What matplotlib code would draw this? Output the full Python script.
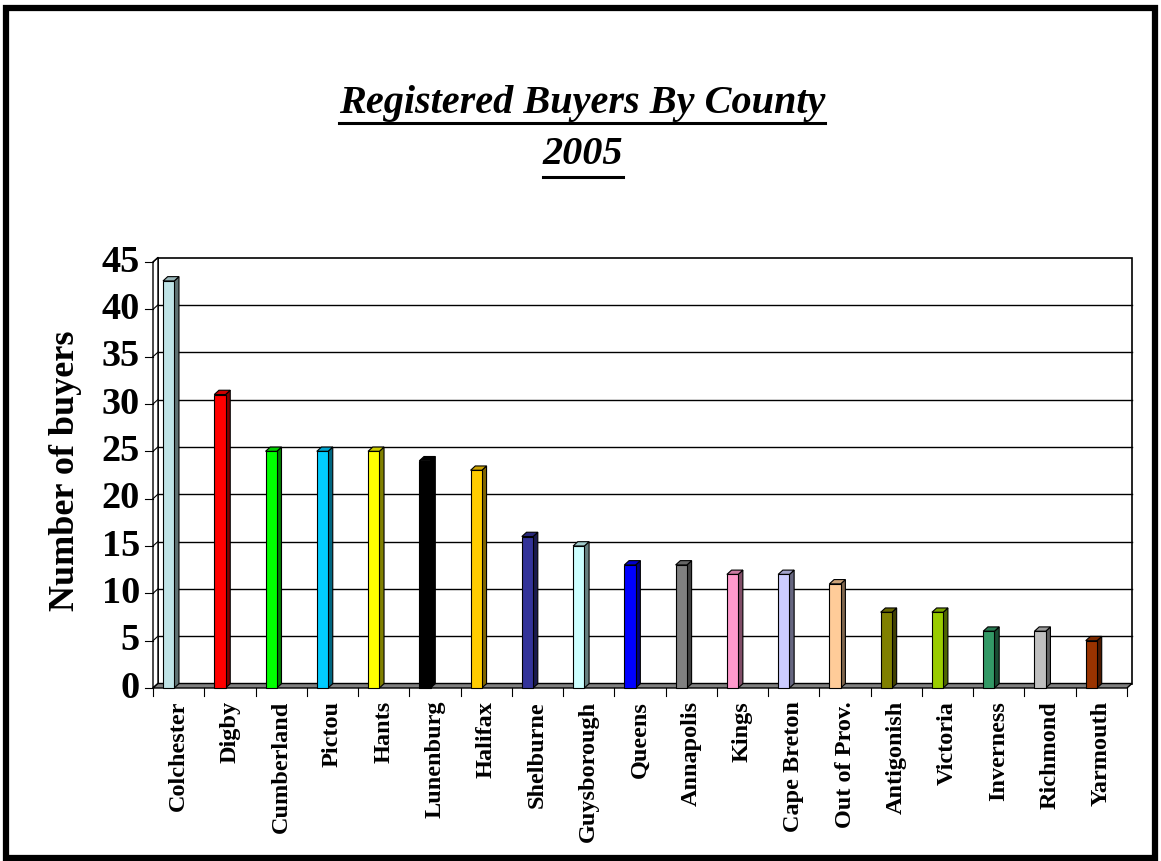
import matplotlib
matplotlib.use("Agg")
import matplotlib.pyplot as plt
from matplotlib.patches import Polygon, Rectangle
from matplotlib.lines import Line2D
import numpy as np

counties = ["Colchester", "Digby", "Cumberland", "Pictou", "Hants", "Lunenburg",
            "Halifax", "Shelburne", "Guysborough", "Queens", "Annapolis", "Kings",
            "Cape Breton", "Out of Prov.", "Antigonish", "Victoria", "Inverness",
            "Richmond", "Yarmouth"]
buyers = [43, 31, 25, 25, 25, 24, 23, 16, 15, 13, 13, 12, 12, 11, 8, 8, 6, 6, 5]
colors = ["#BFE3E6", "#FF0000", "#00FF00", "#00CCFF", "#FFFF00", "#000000",
          "#FFCC00", "#333399", "#CCFFFF", "#0000FF", "#808080", "#FF99CC",
          "#CCCCFF", "#FFCC99", "#808000", "#99CC00", "#339966", "#C0C0C0",
          "#993300"]
yticks = [0, 5, 10, 15, 20, 25, 30, 35, 40, 45]

FONT = "Liberation Serif"
W, H = 1161, 861
fig = plt.figure(figsize=(W / 100, H / 100), dpi=100)

# axes placed in pixel terms
left_px, right_px, bot_px, top_px = 153, 1127, 688, 262
ax = fig.add_axes([left_px / W, 1 - bot_px / H, (right_px - left_px) / W, (bot_px - top_px) / H])
n = len(counties)
ax.set_xlim(0, n)
ax.set_ylim(0, 45)
ax.axis("off")

unit_x = (right_px - left_px) / n
unit_y = (bot_px - top_px) / 45.0
dx = 5 / unit_x
dy = 4.5 / unit_y

# back wall
ax.add_patch(Rectangle((dx, dy), n, 45, facecolor="white", edgecolor="black", lw=1.2, clip_on=False, zorder=1))
for t in yticks[1:-1]:
    ax.plot([dx, n + dx], [t + dy, t + dy], color="black", lw=1.0, clip_on=False, zorder=1.5)
# left side wall
ax.add_patch(Polygon([(0, 0), (dx, dy), (dx, 45 + dy), (0, 45)], closed=True,
                     facecolor="white", edgecolor="black", lw=1.0, clip_on=False, zorder=1.6))
for t in yticks:
    ax.plot([0, dx], [t, t + dy], color="black", lw=0.8, clip_on=False, zorder=1.7)
    ax.plot([-8 / unit_x, 0], [t, t], color="black", lw=0.8, clip_on=False, zorder=1.7)
# floor
ax.add_patch(Polygon([(0, 0), (n, 0), (n + dx, dy), (dx, dy)], closed=True,
                     facecolor="#808080", edgecolor="black", lw=1.0, clip_on=False, zorder=1.8))
# category ticks
for i in range(n + 1):
    ax.plot([i, i], [0, -8 / unit_y], color="black", lw=0.8, clip_on=False, zorder=1.8)


def shade(c, f):
    rgb = np.array(matplotlib.colors.to_rgb(c))
    return tuple(rgb * f)


bw = 0.22
bdx = 4.7 / unit_x
bdy = 4.3 / unit_y
for i, (v, c) in enumerate(zip(buyers, colors)):
    x0 = i + 0.305 - bw / 2
    x1 = x0 + bw
    ax.add_patch(Polygon([(x1, 0), (x1 + bdx, bdy), (x1 + bdx, v + bdy), (x1, v)], closed=True,
                         facecolor=shade(c, 0.5), edgecolor="black", lw=0.8, clip_on=False, zorder=3))
    ax.add_patch(Polygon([(x0, v), (x1, v), (x1 + bdx, v + bdy), (x0 + bdx, v + bdy)], closed=True,
                         facecolor=shade(c, 0.8), edgecolor="black", lw=0.8, clip_on=False, zorder=3))
    ax.add_patch(Rectangle((x0, 0), bw, v, facecolor=c, edgecolor="black", lw=0.8, clip_on=False, zorder=3.5))

# tick labels
for t in yticks:
    ax.text(-13 / unit_x, t, str(t), ha="right", va="center", fontsize=27.5,
            fontweight="bold", family=FONT, clip_on=False)
for i, name in enumerate(counties):
    ax.text(i + 0.5, -13 / unit_y, name, ha="center", va="top", rotation=90,
            fontsize=17.5, fontweight="bold", family=FONT, clip_on=False)

fig.text(66 / W, 1 - 471 / H, "Number of buyers", rotation=90, ha="center", va="center",
         fontsize=26, fontweight="bold", family=FONT)

t1 = fig.text(582 / W, 1 - 104 / H, "Registered Buyers By County", ha="center", va="center",
              fontsize=29, fontweight="bold", style="italic", family=FONT)
t2 = fig.text(583 / W, 1 - 154 / H, "2005", ha="center", va="center",
              fontsize=29, fontweight="bold", style="italic", family=FONT)

# figure border
fig.patches.append(Rectangle((6 / W, 3 / H), (W - 12) / W, (H - 11) / H, transform=fig.transFigure,
                             facecolor="none", edgecolor="black", lw=4.5))

fig.canvas.draw()
r = fig.canvas.get_renderer()
for t, y in ((t1, 123), (t2, 177)):
    bb = t.get_window_extent(r)
    fig.lines.append(Line2D([bb.x0 / W, bb.x1 / W], [1 - y / H, 1 - y / H], transform=fig.transFigure,
                            color="black", lw=2.2))

fig.savefig("out.png", dpi=100, facecolor="white")
